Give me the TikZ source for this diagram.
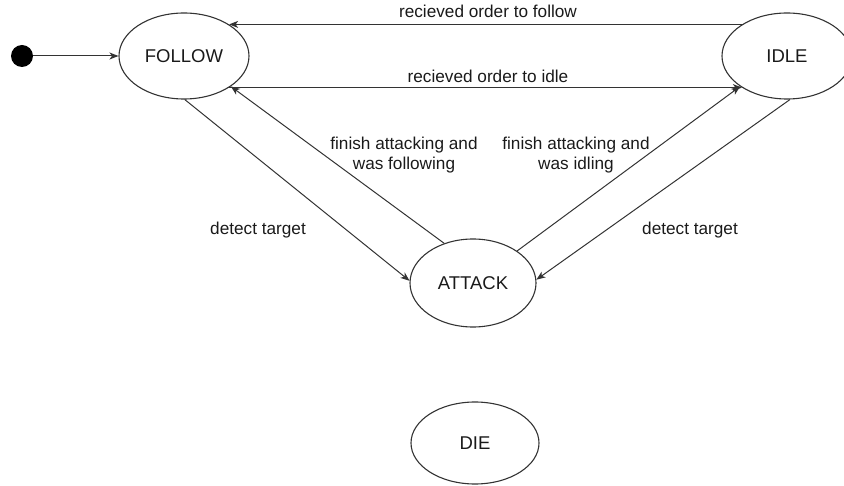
\documentclass[tikz,border=0pt]{standalone}
\usepackage{fontspec}
\setmainfont{Liberation Sans}
\usetikzlibrary{shapes.geometric,arrows.meta}
\definecolor{inkline}{HTML}{333333}
\definecolor{inktext}{HTML}{1A1A1A}
\tikzset{
  state/.style={ellipse, draw=inkline, line width=1.1pt, inner sep=0pt,
    minimum width=130pt, minimum height=86pt, text=inktext,
    font=\fontsize{18.5}{22}\selectfont},
  initdot/.style={circle, fill=black, inner sep=0pt, minimum size=22pt},
  trans/.style={draw=inkline, line width=1pt,
    -{Stealth[length=9pt,width=7pt,inset=2.5pt]}},
  lbl/.style={text=inktext, inner sep=0pt, align=center,
    font=\fontsize{17.2}{20}\selectfont}
}
\begin{document}
\begin{tikzpicture}[x=1pt,y=-1pt]
  \useasboundingbox (0,0) rectangle (844,486);

  % states
  \node[initdot] (init) at (22,56) {};
  \node[state] (follow) at (184,56) {FOLLOW};
  \node[state] (idle) at (787,56) {IDLE};
  \node[state, minimum width=126pt, minimum height=88pt] (attack) at (473,283) {ATTACK};
  \node[state, minimum width=128pt, minimum height=82pt] (die) at (475,443) {DIE};

  % transitions
  \draw[trans] (init) -- (follow);
  \draw[trans] (idle.145) -- (follow.35);
  \draw[trans] (follow.-35) -- (idle.215);
  \draw[trans] (follow.-89) -- (attack.178);
  \draw[trans] (attack.126) -- (follow.-33);
  \draw[trans] (attack.36) -- (idle.213);
  \draw[trans] (idle.-86) -- (attack.3);

  % transition labels
  \node[lbl, anchor=base] (lfollow) at (488,18) {recieved order to follow};
  \node[lbl, anchor=base] (lidle) at (488,83) {recieved order to idle};
  \node[lbl, anchor=base] (ldet1) at (258,235) {detect target};
  \node[lbl, anchor=base] (ldet2) at (690,235) {detect target};
  \node[lbl] (lfin1) at (404,155) {finish attacking and\\was following};
  \node[lbl] (lfin2) at (576,155) {finish attacking and\\was idling};
\end{tikzpicture}
\end{document}
